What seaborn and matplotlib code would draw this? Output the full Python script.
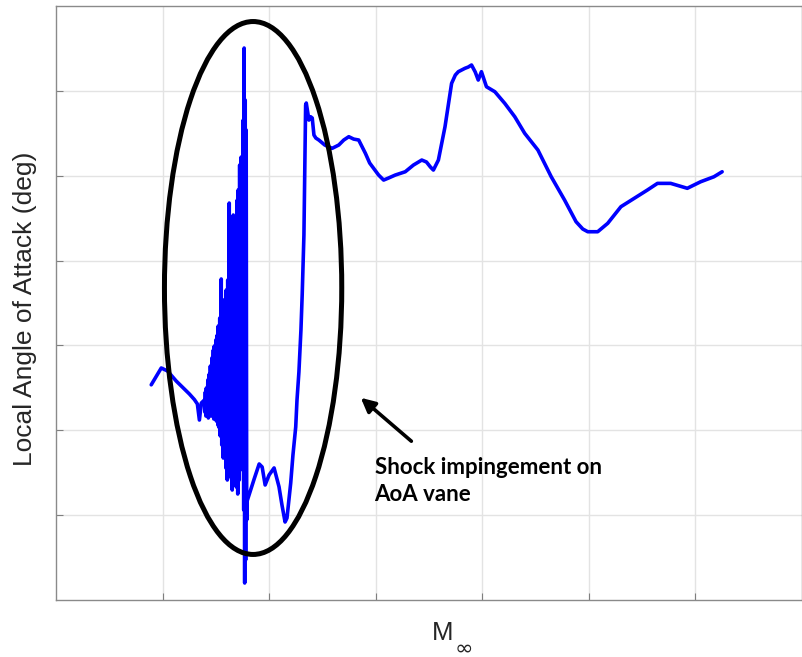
import matplotlib
matplotlib.use("Agg")
import matplotlib.pyplot as plt
from matplotlib.patches import Ellipse
import seaborn as sns
import pandas as pd

# ---- data (abstract units: grid lines at integer positions) ----
mach_pre = [0.894, 0.988, 1.047, 1.128, 1.252, 1.299, 1.327, 1.346, 1.364]
aoa_pre = [2.536, 2.734, 2.699, 2.581, 2.428, 2.362, 2.310, 2.121, 2.321]

mach_osc = [1.393, 1.397, 1.402, 1.407, 1.411, 1.421, 1.425, 1.430, 1.439, 1.444,
            1.449, 1.458, 1.463, 1.467, 1.477, 1.481, 1.486, 1.495, 1.500, 1.505,
            1.514, 1.519, 1.523, 1.533, 1.537, 1.542, 1.551, 1.556, 1.561, 1.570,
            1.575, 1.579, 1.589, 1.594, 1.598, 1.608, 1.612, 1.617, 1.626, 1.631,
            1.636, 1.645, 1.650, 1.654, 1.664, 1.668, 1.673, 1.682, 1.687, 1.692,
            1.701, 1.706, 1.710, 1.720, 1.724, 1.729, 1.738, 1.743, 1.748, 1.752,
            1.757, 1.762, 1.766, 1.771, 1.776, 1.780, 1.785, 1.790, 1.794]
aoa_osc = [2.357, 2.215, 2.451, 2.168, 2.498, 2.192, 2.593, 2.145, 2.663, 2.239,
           2.757, 2.168, 2.852, 2.192, 2.946, 2.133, 2.993, 2.157, 3.064, 2.109,
           3.123, 2.062, 3.229, 2.027, 3.323, 1.933, 3.783, 1.827, 3.417, 1.673,
           3.535, 1.815, 3.500, 1.556, 3.653, 1.414, 3.771, 1.685, 4.678, 1.556,
           4.242, 1.438, 4.360, 1.296, 4.537, 1.603, 4.419, 1.414, 4.502, 1.332,
           4.714, 1.249, 4.832, 1.414, 5.126, 1.532, 5.220, 1.709, 5.185, 1.885,
           5.656, 1.061, 6.505, 0.200, 5.892, 0.471, 5.539, 0.943, 1.167]

mach_post = [1.860, 1.907, 1.935, 1.963, 2.000, 2.047, 2.093, 2.121, 2.150, 2.168,
             2.203, 2.224, 2.250, 2.262, 2.280, 2.299, 2.311, 2.327, 2.336, 2.343,
             2.349, 2.358, 2.374, 2.390, 2.405, 2.421, 2.439, 2.467, 2.523, 2.592,
             2.654, 2.701, 2.748, 2.794, 2.841, 2.904, 2.944, 2.981, 3.028, 3.075,
             3.121, 3.184, 3.278, 3.355, 3.433, 3.477, 3.514, 3.542, 3.589, 3.617,
             3.651, 3.682, 3.713, 3.748, 3.776, 3.838, 3.869, 3.900, 3.935, 3.963,
             3.993, 4.019, 4.040, 4.119, 4.212, 4.306, 4.399, 4.523, 4.648, 4.773,
             4.881, 4.944, 4.991, 5.084, 5.178, 5.302, 5.427, 5.551, 5.645, 5.769,
             5.925, 6.050, 6.175, 6.252]
aoa_post = [1.426, 1.603, 1.567, 1.355, 1.473, 1.556, 1.335, 1.119, 0.919, 0.966,
            1.379, 1.709, 2.039, 2.357, 2.687, 3.182, 3.606, 4.301, 5.185, 5.833,
            5.857, 5.786, 5.656, 5.695, 5.680, 5.480, 5.444, 5.421, 5.362, 5.323,
            5.362, 5.421, 5.460, 5.432, 5.421, 5.264, 5.150, 5.087, 5.008, 4.949,
            4.973, 5.008, 5.047, 5.126, 5.185, 5.162, 5.103, 5.067, 5.185, 5.362,
            5.577, 5.833, 6.089, 6.187, 6.226, 6.266, 6.281, 6.305, 6.222, 6.128,
            6.226, 6.128, 6.049, 5.990, 5.853, 5.695, 5.500, 5.303, 4.988, 4.714,
            4.458, 4.372, 4.340, 4.340, 4.439, 4.635, 4.734, 4.832, 4.910, 4.910,
            4.852, 4.929, 4.988, 5.047]

grid_ticks = [1, 2, 3, 4, 5, 6]
annotation_text = "Shock impingement on\nAoA vane"

df = pd.DataFrame({
    "mach": mach_pre + mach_osc + mach_post,
    "aoa": aoa_pre + aoa_osc + aoa_post,
})

sns.set_theme(style="white")
plt.rcParams["font.family"] = ["Liberation Sans", "DejaVu Sans"]

fig = plt.figure(figsize=(8.02, 6.57), dpi=100)
ax = fig.add_axes([0.0698, 0.0868, 0.93, 0.904])

sns.lineplot(data=df, x="mach", y="aoa", sort=False, estimator=None,
             color="#0000ff", linewidth=2.6, ax=ax)

ax.set_xlim(0, 7)
ax.set_ylim(0, 7)
ax.set_xticks(grid_ticks)
ax.set_yticks(grid_ticks)
ax.set_xticklabels([])
ax.set_yticklabels([])
ax.grid(True, color="#e3e3e3", linewidth=1.0)
ax.set_axisbelow(True)
ax.tick_params(direction="in", length=5, width=0.8, color="#7f7f7f",
               bottom=True, left=True, top=False, right=False)
for s in ax.spines.values():
    s.set_color("#8a8a8a")
    s.set_linewidth(1.0)

ax.set_ylabel("Local Angle of Attack (deg)", fontsize=19, color="#262626")
ax.yaxis.set_label_coords(-0.025, 0.49)
ax.set_xlabel("M", fontsize=18.5, color="#262626")
ax.xaxis.set_label_coords(0.519, -0.035)
ax.xaxis.label.set_va("top")
ax.text(0.547, -0.081, "\u221e", transform=ax.transAxes, fontsize=16,
        color="#262626", ha="center", va="center",
        family=["DejaVu Sans"])

ell = Ellipse((1.850, 3.677), width=1.664, height=6.281, fill=False,
              edgecolor="black", linewidth=3.6, zorder=5)
ax.add_patch(ell)

ax.annotate("", xy=(2.841, 2.404), xytext=(3.355, 1.850),
            arrowprops=dict(arrowstyle="-|>,head_length=0.7,head_width=0.35",
                            color="black", lw=2.6), zorder=6)
ax.text(2.99, 1.68, annotation_text, fontsize=16, fontweight="bold",
        family=["Lato", "DejaVu Sans"], color="black", va="top", ha="left",
        linespacing=1.3)

fig.savefig("out.png", dpi=100)
